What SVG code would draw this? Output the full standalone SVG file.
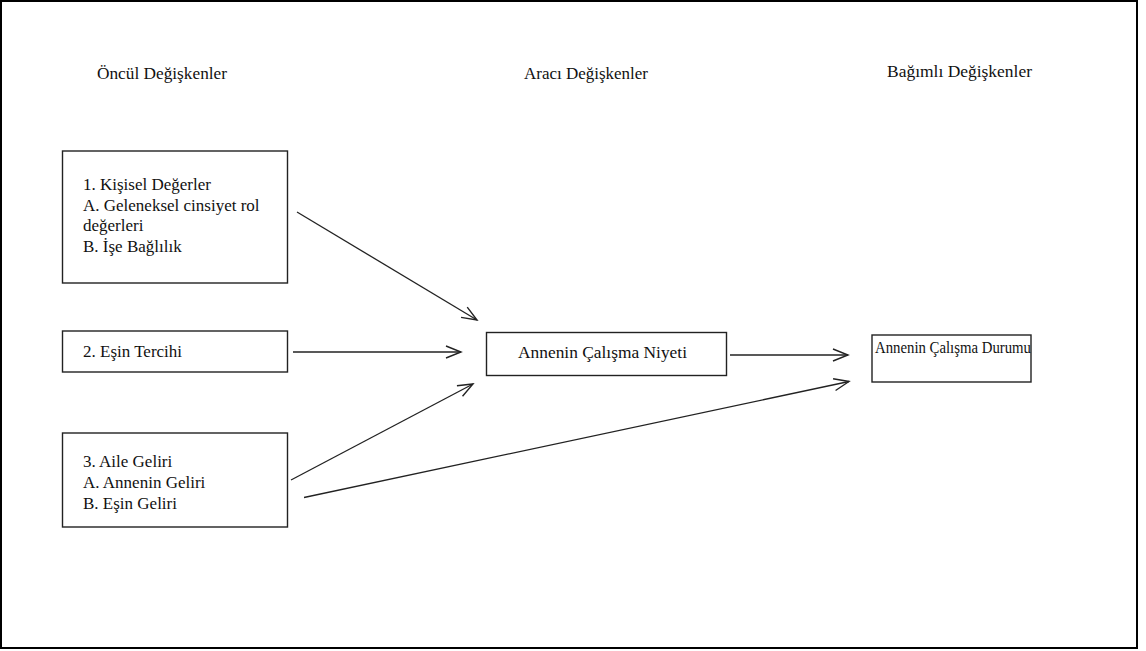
<svg xmlns="http://www.w3.org/2000/svg" width="1146" height="651" viewBox="0 0 1146 651">
<style>
text { font-family: "Liberation Serif", "Times New Roman", "DejaVu Serif", serif; font-size: 17px; fill: #111; }
.box { fill: #fff; stroke: #222; stroke-width: 1.4; }
.conn { stroke: #222; stroke-width: 1.3; fill: none; marker-end: url(#arr); }
</style>
<defs>
<marker id="arr" markerUnits="userSpaceOnUse" markerWidth="20" markerHeight="16" viewBox="-17 -8 20 16" refX="0" refY="0" orient="auto">
<path d="M-15,-6 L0,0 L-15,6" fill="none" stroke="#222" stroke-width="1.4"/>
</marker>
</defs>
<rect x="0" y="0" width="1146" height="651" fill="#fff"/>
<rect id="frame" x="1" y="1" width="1136" height="647" fill="none" stroke="#000" stroke-width="2"/>
<g id="headers">
<text x="97" y="79" textLength="130" lengthAdjust="spacingAndGlyphs">Öncül Değişkenler</text>
<text x="524" y="79" textLength="124" lengthAdjust="spacingAndGlyphs">Aracı Değişkenler</text>
<text x="887" y="77" textLength="145" lengthAdjust="spacingAndGlyphs">Bağımlı Değişkenler</text>
</g>
<g id="node1">
<rect class="box" x="62.5" y="151" width="225" height="132"/>
<text x="83" y="190">1. Kişisel Değerler</text>
<text x="83" y="211">A. Geleneksel cinsiyet rol</text>
<text x="83" y="231">değerleri</text>
<text x="83" y="252">B. İşe Bağlılık</text>
</g>
<g id="node2">
<rect class="box" x="62.5" y="331" width="225" height="41"/>
<text x="83" y="357">2. Eşin Tercihi</text>
</g>
<g id="node3">
<rect class="box" x="62.5" y="433" width="225" height="94"/>
<text x="83" y="467">3. Aile Geliri</text>
<text x="83" y="488">A. Annenin Geliri</text>
<text x="83" y="509">B. Eşin Geliri</text>
</g>
<g id="node4">
<rect class="box" x="486.5" y="332.5" width="240" height="43"/>
<text x="518" y="358" textLength="169" lengthAdjust="spacingAndGlyphs">Annenin Çalışma Niyeti</text>
</g>
<g id="node5">
<rect class="box" x="872" y="335" width="159" height="47"/>
<text x="875" y="353" textLength="156" lengthAdjust="spacingAndGlyphs">Annenin Çalışma Durumu</text>
</g>
<g id="connectors">
<line class="conn" x1="297" y1="212" x2="477" y2="320"/>
<line class="conn" x1="293" y1="352" x2="461" y2="352"/>
<line class="conn" x1="291" y1="480" x2="473" y2="384"/>
<line class="conn" x1="304" y1="497.5" x2="849" y2="381.5"/>
<line class="conn" x1="730" y1="355" x2="848" y2="355"/>
</g>
</svg>
